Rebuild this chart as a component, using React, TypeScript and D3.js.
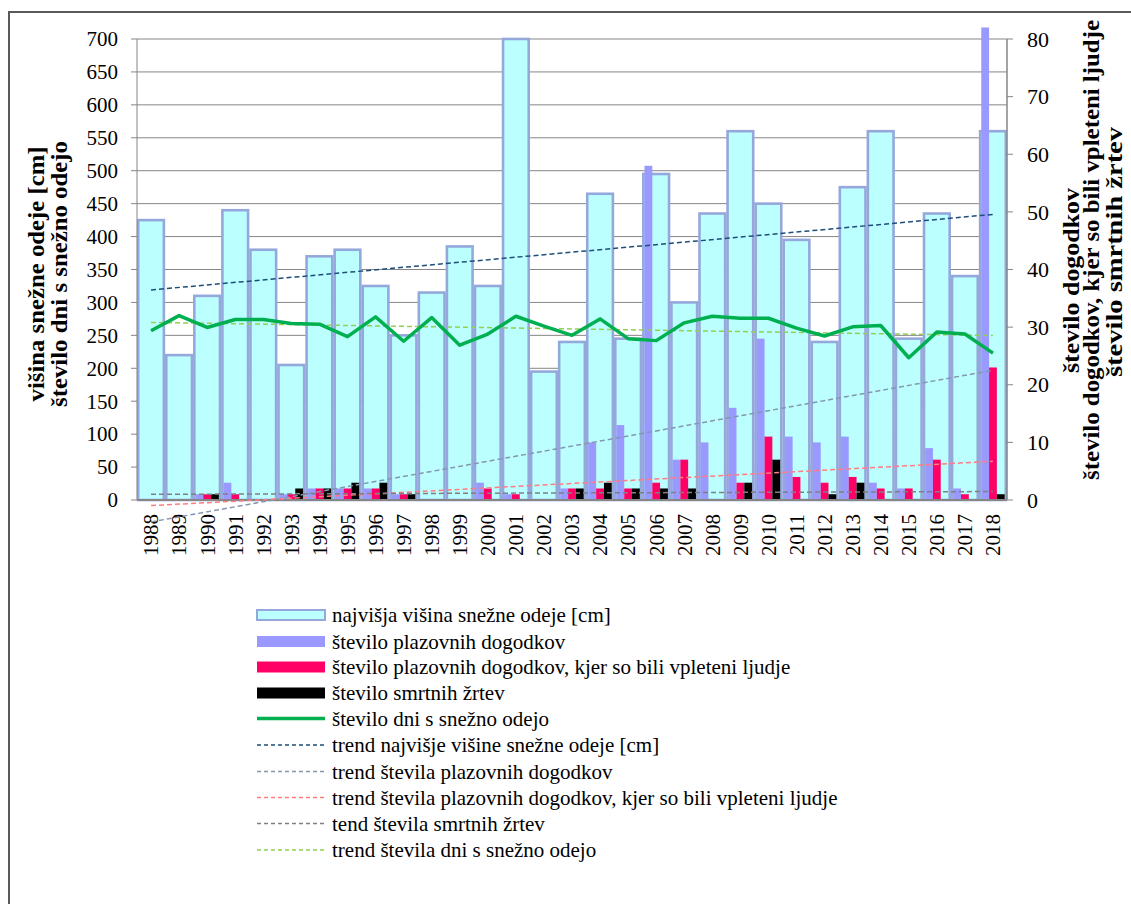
import React from "react";
import * as d3 from "d3";

const years = ["1988","1989","1990","1991","1992","1993","1994","1995","1996","1997","1998","1999","2000","2001","2002","2003","2004","2005","2006","2007","2008","2009","2010","2011","2012","2013","2014","2015","2016","2017","2018"];
const maxSnow = [425,220,310,440,380,205,370,380,325,250,315,385,325,700,195,240,465,245,495,300,435,560,450,395,240,475,560,245,435,340,560];
const snowDays = [257,280,262,274,274,268,267,248,278,241,277,235,252,279,264,250,275,245,242,269,279,276,276,261,249,263,265,216,255,252,223];
const events = [0,0,1,3,0,1,2,2,2,1,0,0,3,1,0,2,10,13,58,7,10,16,28,11,10,11,3,2,9,2,82];
const involved = [0,0,1,1,0,1,2,2,2,1,0,0,2,1,0,2,2,2,3,7,0,3,11,4,3,4,2,2,7,1,23];
const deaths = [0,0,1,0,0,2,2,3,3,1,0,0,0,0,0,2,3,2,2,2,0,3,7,0,1,3,0,0,0,0,1];

const leftTicks = [0,50,100,150,200,250,300,350,400,450,500,550,600,650,700];
const rightTicks = [0,10,20,30,40,50,60,70,80];

const legendLabels = [
  "najvišja višina snežne odeje [cm]",
  "število plazovnih dogodkov",
  "število plazovnih dogodkov, kjer so bili vpleteni ljudje",
  "število smrtnih žrtev",
  "število dni s snežno odejo",
  "trend najvišje višine snežne odeje [cm]",
  "trend števila plazovnih dogodkov",
  "trend števila plazovnih dogodkov, kjer so bili vpleteni ljudje",
  "tend števila smrtnih žrtev",
  "trend števila dni s snežno odejo",
];

const FONT = "'Liberation Serif', 'Times New Roman', serif";
const C = {
  cyan: "#BBFFFF",
  cyanStroke: "#95A8DC",
  purple: "#9999FF",
  red: "#FF0066",
  black: "#000000",
  green: "#00B050",
  tNavy: "#1F4E79",
  tBlue: "#8497B0",
  tSalmon: "#FF7C80",
  tGray: "#808080",
  tGreen: "#92D050",
  grid: "#868686",
};

function linReg(vals: number[]) {
  const n = vals.length;
  const xs = vals.map((_, i) => i);
  const mx = d3.mean(xs)!;
  const my = d3.mean(vals)!;
  let num = 0, den = 0;
  xs.forEach((x, i) => { num += (x - mx) * (vals[i] - my); den += (x - mx) ** 2; });
  const b = num / den;
  const a = my - b * mx;
  return [a, a + b * (n - 1)];
}

export default function App() {
  const L = 137, R = 1007, T = 39, B = 500;
  const x = d3.scaleBand<string>().domain(years).range([L, R]).padding(0);
  const yL = d3.scaleLinear().domain([0, 700]).range([B, T]);
  const yR = d3.scaleLinear().domain([0, 80]).range([B, T]);
  const bw = x.bandwidth();
  const groupW = bw / 1.2;
  const sub = d3.scaleBand<string>().domain(["e", "i", "d"]).range([-groupW / 2, groupW / 2]).padding(0);
  const cx = (i: number) => x(years[i])! + bw / 2;

  const dayLine = d3.line<number>().x((_, i) => cx(i)).y((d) => yL(d));

  const trends = [
    { vals: maxSnow, scale: yL, color: C.tNavy },
    { vals: events, scale: yR, color: C.tBlue },
    { vals: involved, scale: yR, color: C.tSalmon },
    { vals: deaths, scale: yR, color: C.tGray },
    { vals: snowDays, scale: yL, color: C.tGreen },
  ];

  const small = [
    { key: "e", vals: events, color: C.purple },
    { key: "i", vals: involved, color: C.red },
    { key: "d", vals: deaths, color: C.black },
  ];

  const legY = [615, 641.5, 667, 693, 718.5, 745, 771.5, 797.5, 823.5, 850];
  const legX0 = 257, legX1 = 325, legTX = 332;

  return (
    <svg width={1131} height={904} style={{ position: "absolute", left: 0, top: 0, background: "#fff" }} fontFamily={FONT}>
      <rect x={9} y={12} width={1200} height={1000} fill="#fff" stroke="#595959" strokeWidth={2} />
      {/* gridlines */}
      {leftTicks.filter((t) => t > 0).map((t) => (
        <line key={"g" + t} x1={L} x2={R} y1={yL(t)} y2={yL(t)} stroke={C.grid} strokeWidth={1} />
      ))}
      {/* cyan bars */}
      {maxSnow.map((v, i) => (
        <rect key={"c" + i} x={x(years[i])! + 1.2} y={yL(v)} width={bw - 2.4} height={B - yL(v)} fill={C.cyan} stroke={C.cyanStroke} strokeWidth={2.6} />
      ))}
      {/* small bars */}
      {small.map((s) =>
        s.vals.map((v, i) =>
          v > 0 ? (
            <rect key={s.key + i} x={cx(i) + sub(s.key)!} y={yR(v)} width={sub.bandwidth()} height={B - yR(v)} fill={s.color} />
          ) : null
        )
      )}
      {/* axes */}
      <line x1={L} x2={L} y1={T} y2={B} stroke={C.grid} strokeWidth={1} />
      <line x1={R} x2={R} y1={T} y2={B} stroke={C.grid} strokeWidth={1.5} />
      <line x1={L} x2={R} y1={B} y2={B} stroke={C.grid} strokeWidth={2} />
      {leftTicks.map((t) => (
        <g key={"lt" + t}>
          <line x1={L - 6} x2={L} y1={yL(t)} y2={yL(t)} stroke={C.grid} />
          <text x={118} y={yL(t)} dy="0.35em" textAnchor="end" fontSize={21} fill="#000">{t}</text>
        </g>
      ))}
      {rightTicks.map((t) => (
        <g key={"rt" + t}>
          <line x1={R} x2={R + 6} y1={yR(t)} y2={yR(t)} stroke={C.grid} />
          <text x={1027} y={yR(t)} dy="0.35em" textAnchor="start" fontSize={22} fill="#000">{t}</text>
        </g>
      ))}
      {years.map((yr, i) => (
        <text key={"x" + yr} transform={`translate(${cx(i)},${514}) rotate(-90)`} dy="0.35em" textAnchor="end" fontSize={21} fill="#000">{yr}</text>
      ))}
      {/* trends */}
      {trends.map((t, k) => {
        const [a, b] = linReg(t.vals);
        return (
          <line key={"tr" + k} x1={cx(0)} x2={cx(years.length - 1)} y1={t.scale(a)} y2={t.scale(b)} stroke={t.color} strokeWidth={1.5} strokeDasharray="5,3" />
        );
      })}
      {/* green line */}
      <path d={dayLine(snowDays)!} fill="none" stroke={C.green} strokeWidth={3.5} strokeLinejoin="round" />
      {/* axis titles */}
      <g fontWeight="bold" fill="#000">
        <text transform={`translate(35.5,274) rotate(-90)`} dy="0.35em" textAnchor="middle" fontSize={23} textLength={255} lengthAdjust="spacingAndGlyphs">višina snežne odeje [cm]</text>
        <text transform={`translate(58.5,274) rotate(-90)`} dy="0.35em" textAnchor="middle" fontSize={23} textLength={266} lengthAdjust="spacingAndGlyphs">število dni s snežno odejo</text>
        <text transform={`translate(1071,280.5) rotate(-90)`} dy="0.35em" textAnchor="middle" fontSize={23} textLength={185} lengthAdjust="spacingAndGlyphs">število dogodkov</text>
        <text transform={`translate(1091,250) rotate(-90)`} dy="0.35em" textAnchor="middle" fontSize={23} textLength={460} lengthAdjust="spacingAndGlyphs">število dogodkov, kjer so bili vpleteni ljudje</text>
        <text transform={`translate(1113.5,252) rotate(-90)`} dy="0.35em" textAnchor="middle" fontSize={23} textLength={250} lengthAdjust="spacingAndGlyphs">število smrtnih žrtev</text>
      </g>
      {/* legend */}
      <g>
        <rect x={legX0} y={legY[0] - 5} width={legX1 - legX0} height={10} fill={C.cyan} stroke={C.cyanStroke} strokeWidth={2} />
        <rect x={legX0} y={legY[1] - 5.5} width={legX1 - legX0} height={11} fill={C.purple} />
        <rect x={legX0} y={legY[2] - 5.5} width={legX1 - legX0} height={11} fill={C.red} />
        <rect x={legX0} y={legY[3] - 5.5} width={legX1 - legX0} height={11} fill={C.black} />
        <line x1={legX0} x2={legX1} y1={legY[4]} y2={legY[4]} stroke={C.green} strokeWidth={3.5} />
        {trends.map((t, k) => (
          <line key={"lg" + k} x1={legX0} x2={legX1} y1={legY[5 + k]} y2={legY[5 + k]} stroke={t.color} strokeWidth={1.5} strokeDasharray="4,3" />
        ))}
        {legendLabels.map((s, k) => (
          <text key={"lt" + k} x={legTX} y={legY[k]} dy="0.35em" fontSize={21} fill="#000">{s}</text>
        ))}
      </g>
    </svg>
  );
}
